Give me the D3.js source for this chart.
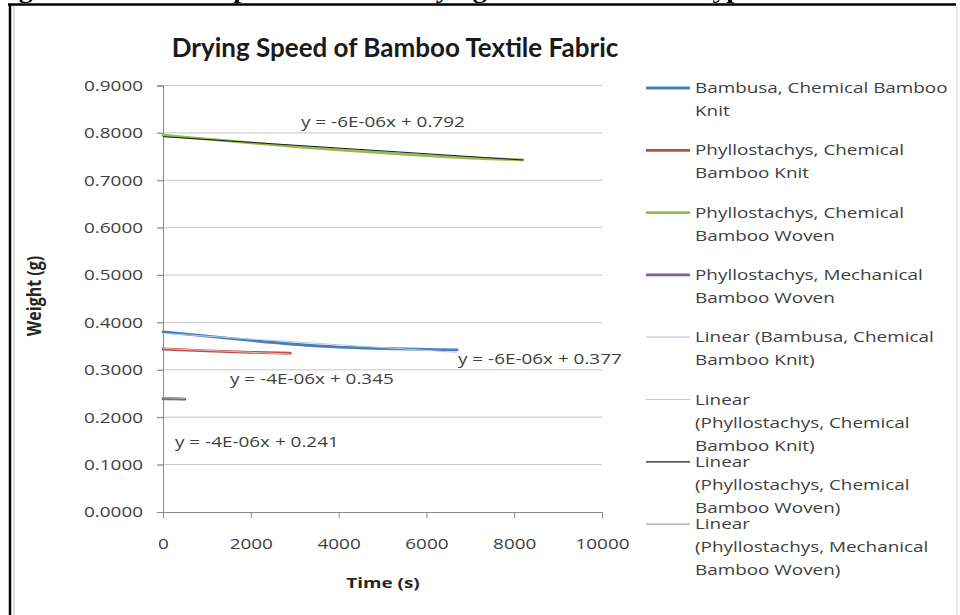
<!DOCTYPE html>
<html>
<head>
<meta charset="utf-8">
<script src="https://cdn.jsdelivr.net/npm/d3@7"></script>
<style>
  body { margin: 0; background: #fff; }
  svg { display: block; }
  text { font-family: "Open Sans", sans-serif; fill: #404040; }
</style>
</head>
<body>
<div id="chart"></div>
<script>
// Data
const seriesNames = [
    "Bambusa, Chemical Bamboo Knit",
    "Phyllostachys, Chemical Bamboo Knit",
    "Phyllostachys, Chemical Bamboo Woven",
    "Phyllostachys, Mechanical Bamboo Woven"
];
const timeBambusaKnit = [0, 1000, 2000, 3000, 4000, 5000, 6000, 6700];
const weightBambusaKnit = [0.380, 0.371, 0.362, 0.354, 0.348, 0.345, 0.343, 0.342];
const timePhylloKnit = [0, 1000, 2000, 2900];
const weightPhylloKnit = [0.344, 0.340, 0.337, 0.335];
const timePhylloWoven = [0, 1000, 2000, 3000, 4000, 5000, 6000, 7000, 8200];
const weightPhylloWoven = [0.795, 0.787, 0.779, 0.771, 0.764, 0.758, 0.752, 0.747, 0.743];
const timeMechWoven = [0, 250, 500];
const weightMechWoven = [0.239, 0.239, 0.238];

// Linear trendlines (from the equations shown on the chart)
const trendSlopes = [-6e-6, -4e-6, -6e-6, -4e-6];
const trendIntercepts = [0.377, 0.345, 0.792, 0.241];
const trendLabels = ["y = -6E-06x + 0.377", "y = -4E-06x + 0.345", "y = -6E-06x + 0.792", "y = -4E-06x + 0.241"];

const xTicks = [0, 2000, 4000, 6000, 8000, 10000];
const yTicks = [0, 0.1, 0.2, 0.3, 0.4, 0.5, 0.6, 0.7, 0.8, 0.9];

const legendLabels = [
    ["Bambusa, Chemical Bamboo", "Knit"],
    ["Phyllostachys, Chemical", "Bamboo Knit"],
    ["Phyllostachys, Chemical", "Bamboo Woven"],
    ["Phyllostachys, Mechanical", "Bamboo Woven"],
    ["Linear (Bambusa, Chemical", "Bamboo Knit)"],
    ["Linear", "(Phyllostachys, Chemical", "Bamboo Knit)"],
    ["Linear", "(Phyllostachys, Chemical", "Bamboo Woven)"],
    ["Linear", "(Phyllostachys, Mechanical", "Bamboo Woven)"]
];

// Styles
const seriesColors = ["#4a7ebb", "#be4b48", "#98b954", "#7d60a0"];
const trendColors = ["#b7cbe3", "#e8b8b7", "#1e1e1e", "#a6a6a6"];
const SX = 1.26; // the picture is a bit stretched horizontally

const width = 960, height = 615;
const plot = { left: 163, right: 602, top: 85.5, bottom: 512 };

const svg = d3.select("#chart").append("svg")
    .attr("width", width)
    .attr("height", height);

// Page frame (caption above is cut off in the picture)
svg.append("text")
    .attr("transform", `translate(-6,-2) scale(${SX},1)`)
    .style("font-family", "'Liberation Serif', serif")
    .style("font-weight", "bold")
    .style("font-size", "22px")
    .style("fill", "#000")
    .text("Figure 5: Time Comparison of the Drying Time of Bamboo Types");
svg.append("line").attr("x1", 957).attr("x2", 957).attr("y1", 6).attr("y2", height)
    .attr("stroke", "#e2e2e2").attr("stroke-width", 1.5);
svg.append("line").attr("x1", 14).attr("x2", 14).attr("y1", 6).attr("y2", height)
    .attr("stroke", "#dcdcdc").attr("stroke-width", 2);
svg.append("line").attr("x1", 8).attr("x2", 956).attr("y1", 4.5).attr("y2", 4.5)
    .attr("stroke", "#000").attr("stroke-width", 2.5);
svg.append("line").attr("x1", 10).attr("x2", 10).attr("y1", 4).attr("y2", height)
    .attr("stroke", "#000").attr("stroke-width", 2.5);

// Scales
const x = d3.scaleLinear().domain([0, 10000]).range([plot.left, plot.right]);
const y = d3.scaleLinear().domain([0, 0.9]).range([plot.bottom, plot.top]);

// Gridlines
svg.append("g").selectAll("line")
    .data(yTicks.filter(t => t > 0))
    .join("line")
    .attr("x1", plot.left - 6).attr("x2", plot.right)
    .attr("y1", d => y(d)).attr("y2", d => y(d))
    .attr("stroke", "#c4c4c4").attr("stroke-width", 1);

// Y axis
const yAxis = svg.append("g")
    .attr("transform", `translate(${plot.left},0)`)
    .call(d3.axisLeft(y).tickValues(yTicks).tickFormat(d3.format(".4f")).tickSize(6));
yAxis.select(".domain").attr("stroke", "#8a8a8a");
yAxis.selectAll(".tick line").attr("stroke", "#8a8a8a");
yAxis.selectAll(".tick text")
    .attr("x", -20 / SX)
    .attr("transform", `scale(${SX},1)`)
    .style("font-size", "15px")
    .style("font-family", "'Open Sans', sans-serif")
    .style("fill", "#404040");

// X axis
const xAxis = svg.append("g")
    .attr("transform", `translate(0,${plot.bottom})`)
    .call(d3.axisBottom(x).tickValues(xTicks).tickFormat(d3.format("d")).tickSize(6).tickPadding(20));
xAxis.select(".domain").attr("stroke", "#8a8a8a");
xAxis.selectAll(".tick line").attr("stroke", "#8a8a8a");
xAxis.selectAll(".tick text")
    .attr("transform", `scale(${SX},1)`)
    .style("font-size", "15px")
    .style("font-family", "'Open Sans', sans-serif")
    .style("fill", "#404040");

// Axis titles
svg.append("text")
    .attr("transform", `translate(41,296) scale(${SX},1) rotate(-90)`)
    .attr("text-anchor", "middle")
    .style("font-weight", "bold")
    .style("font-size", "16px")
    .style("fill", "#262626")
    .text("Weight (g)");
svg.append("text")
    .attr("transform", `translate(383,588) scale(${SX},1)`)
    .attr("text-anchor", "middle")
    .style("font-weight", "bold")
    .style("font-size", "15px")
    .style("fill", "#262626")
    .text("Time (s)");

// Chart title
svg.append("text")
    .attr("x", 395).attr("y", 57)
    .attr("text-anchor", "middle")
    .style("font-family", "Lato, sans-serif")
    .style("font-weight", "bold")
    .style("font-size", "26px")
    .style("fill", "#1a1a1a")
    .text("Drying Speed of Bamboo Textile Fabric");

// Series
const seriesData = [
    d3.zip(timeBambusaKnit, weightBambusaKnit),
    d3.zip(timePhylloKnit, weightPhylloKnit),
    d3.zip(timePhylloWoven, weightPhylloWoven),
    d3.zip(timeMechWoven, weightMechWoven)
];

const line = d3.line()
    .x(d => x(d[0]))
    .y(d => y(d[1]))
    .curve(d3.curveMonotoneX);

svg.append("g").selectAll("path")
    .data(seriesData)
    .join("path")
    .attr("d", line)
    .attr("fill", "none")
    .attr("stroke", (d, i) => seriesColors[i])
    .attr("stroke-width", 2.8)
    .attr("stroke-linecap", "round");

// Trendlines over the data range of each series
svg.append("g").selectAll("path")
    .data(seriesData)
    .join("path")
    .attr("d", (d, i) => {
        const ext = d3.extent(d, p => p[0]);
        return d3.line().x(t => x(t)).y(t => y(trendSlopes[i] * t + trendIntercepts[i]))(ext);
    })
    .attr("fill", "none")
    .attr("stroke", (d, i) => trendColors[i])
    .attr("stroke-width", 1);

// Trendline equations
const eqPos = [[458, 364], [230, 384], [301, 127], [175, 447]];
trendLabels.forEach((t, i) => {
    svg.append("text")
        .attr("transform", `translate(${eqPos[i][0]},${eqPos[i][1]}) scale(${SX},1)`)
        .style("font-size", "15px")
        .text(t);
});

// Legend
const legend = svg.append("g").attr("transform", "translate(646,88)");
legendLabels.forEach((lines, i) => {
    const g = legend.append("g").attr("transform", `translate(0,${i * 62.3})`);
    const isTrend = i >= 4;
    g.append("line")
        .attr("x1", 0).attr("x2", 44)
        .attr("stroke", isTrend ? trendColors[i - 4] : seriesColors[i])
        .attr("stroke-width", isTrend ? 1.2 : 2.8);
    lines.forEach((s, j) => {
        g.append("text")
            .attr("transform", `translate(49,${j * 23 + 5}) scale(${SX},1)`)
            .style("font-size", "15px")
            .text(s);
    });
});
</script>
</body>
</html>
